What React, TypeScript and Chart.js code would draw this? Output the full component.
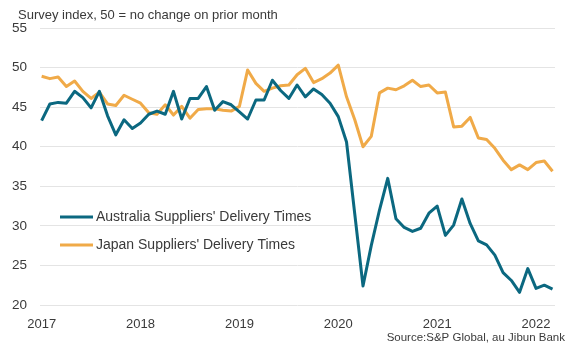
import React, { useEffect, useRef } from "react";
import { Chart, registerables } from "chart.js";

Chart.register(...registerables);

// Monthly survey index, Jan 2017 – Mar 2022
const yearLabels = ["2017", "2018", "2019", "2020", "2021", "2022"];
const yTickValues = [20, 25, 30, 35, 40, 45, 50, 55];

const australia = [
  43.3, 45.4, 45.6, 45.5, 47.0, 46.2, 44.9, 47.0, 43.9, 41.5, 43.4, 42.3,
  43.0, 44.1, 44.5, 44.1, 47.0, 43.5, 46.1, 46.1, 47.6, 44.6, 45.7, 45.3,
  44.4, 43.5, 45.9, 45.9, 48.4, 47.1, 46.1, 47.8, 46.3, 47.3, 46.6, 45.5,
  43.8, 40.6, 31.5, 22.4, 27.5, 32.0, 36.0, 30.9, 29.8, 29.3, 29.7, 31.6,
  32.5, 28.8, 30.1, 33.4, 30.3, 28.1, 27.6, 26.3, 24.1, 23.1, 21.6, 24.6,
  22.1, 22.5, 22.0,
];

const japan = [
  48.9, 48.6, 48.8, 47.6, 48.3, 47.0, 46.1, 46.9, 45.4, 45.2, 46.5, 46.0,
  45.5, 44.3, 44.1, 45.3, 44.0, 45.1, 43.6, 44.7, 44.8, 44.8, 44.6, 44.5,
  45.1, 49.7, 48.0, 47.0, 47.4, 47.7, 47.8, 49.1, 49.9, 48.1, 48.6, 49.3,
  50.3, 46.3, 43.4, 40.0, 41.3, 46.8, 47.4, 47.2, 47.7, 48.4, 47.6, 47.8,
  46.8, 46.9, 42.5, 42.6, 43.7, 41.1, 40.9, 39.8, 38.3, 37.1, 37.7, 37.1,
  38.0, 38.2, 36.9,
];

const seriesNames = ["Australia Suppliers' Delivery Times", "Japan Suppliers' Delivery Times"];
const titleText = "Survey index, 50 = no change on prior month";
const sourceText = "Source:S&P Global, au Jibun Bank";

const BLUE = "#0b6880";
const ORANGE = "#f0aa48";
const TEXT = "#3a3a3a";
const FONT = '"Liberation Sans", Arial, sans-serif';

const textPlugin = {
  id: "customTexts",
  afterDraw(chart: any) {
    const ctx = chart.ctx as CanvasRenderingContext2D;
    ctx.save();
    ctx.fillStyle = TEXT;
    ctx.textBaseline = "middle";
    ctx.textAlign = "left";
    ctx.font = `13px ${FONT}`;
    ctx.fillText(titleText, 18, 15);

    ctx.textAlign = "right";
    ctx.font = `11.5px ${FONT}`;
    ctx.fillText(sourceText, 565, 338);

    ctx.textAlign = "left";
    ctx.font = `14px ${FONT}`;
    chart.data.datasets.forEach((ds: any, k: number) => {
      const y = 217 + k * 28;
      ctx.strokeStyle = ds.borderColor;
      ctx.lineWidth = 3;
      ctx.beginPath();
      ctx.moveTo(60, y);
      ctx.lineTo(93, y);
      ctx.stroke();
      ctx.fillStyle = TEXT;
      ctx.fillText(ds.label, 96, y + 0.5);
    });
    ctx.restore();
  },
};

export default function App() {
  const canvasRef = useRef<HTMLCanvasElement | null>(null);

  useEffect(() => {
    document.body.style.margin = "0";
    const canvas = canvasRef.current;
    if (!canvas) return;
    const toPoints = (arr: number[]) => arr.map((v, i) => ({ x: i, y: v }));
    const chart = new Chart(canvas, {
      type: "line",
      data: {
        datasets: [
          {
            label: seriesNames[0],
            data: toPoints(australia),
            borderColor: BLUE,
            backgroundColor: BLUE,
            borderWidth: 3,
            pointRadius: 0,
            tension: 0,
            borderJoinStyle: "round",
          },
          {
            label: seriesNames[1],
            data: toPoints(japan),
            borderColor: ORANGE,
            backgroundColor: ORANGE,
            borderWidth: 3,
            pointRadius: 0,
            tension: 0,
            borderJoinStyle: "round",
          },
        ],
      },
      options: {
        responsive: false,
        animation: false,
        layout: { padding: { left: 12, right: 19, top: 28, bottom: 0 } },
        plugins: {
          legend: { display: false },
          title: { display: false },
          tooltip: { enabled: false },
        },
        scales: {
          x: {
            type: "linear",
            min: -0.2,
            max: 62.3,
            grid: { display: false, drawTicks: false },
            border: { display: false },
            afterBuildTicks: (scale: any) => {
              scale.ticks = yearLabels.map((_, k) => ({ value: k * 12 }));
            },
            afterFit: (scale: any) => {
              scale.height = 56;
            },
            ticks: {
              autoSkip: false,
              maxRotation: 0,
              padding: 12,
              color: TEXT,
              font: { family: FONT, size: 13 },
              callback: (value: any) => yearLabels[Math.round(Number(value) / 12)] ?? "",
            },
          },
          y: {
            min: 20,
            max: 55,
            grid: { color: "#e4e4e4", lineWidth: 1, drawTicks: false },
            border: { display: false },
            afterBuildTicks: (scale: any) => {
              scale.ticks = yTickValues.map((v) => ({ value: v }));
            },
            afterFit: (scale: any) => {
              scale.width = 28;
            },
            ticks: {
              crossAlign: "far",
              padding: 0,
              color: TEXT,
              font: { family: FONT, size: 13.5 },
            },
          },
        },
      },
      plugins: [textPlugin],
    } as any);
    return () => chart.destroy();
  }, []);

  return (
    <div style={{ position: "absolute", left: 0, top: 0, width: 574, height: 361, background: "#fff" }}>
      <canvas ref={canvasRef} width={574} height={361} style={{ display: "block" }} />
    </div>
  );
}
